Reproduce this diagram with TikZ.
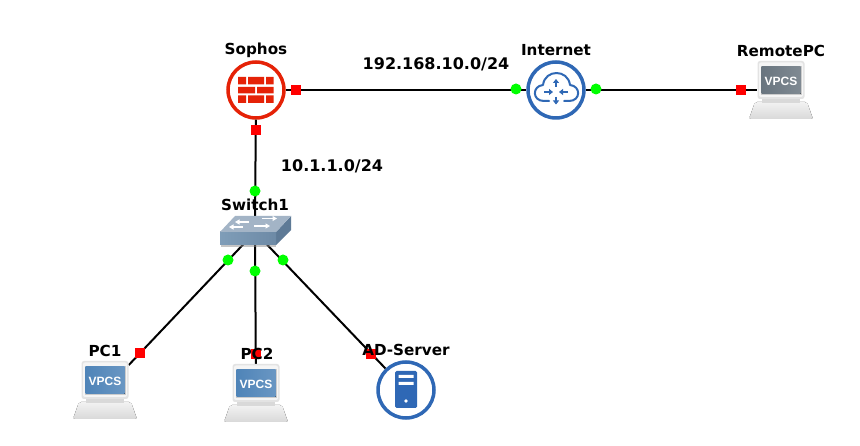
\documentclass[tikz,border=0pt]{standalone}
\usepackage{fontspec}
\setmainfont{DejaVu Sans}
\newfontfamily\vpcsfont{Liberation Sans}
\usetikzlibrary{arrows.meta}
\definecolor{sophred}{HTML}{E52207}
\definecolor{gnsblue}{HTML}{2F68B5}
\definecolor{dotgreen}{HTML}{00FF00}
\definecolor{dotred}{HTML}{FF0000}
\definecolor{screenblue}{HTML}{4F84B8}
\definecolor{screengray}{HTML}{69757F}
\definecolor{swtop}{HTML}{A3B4C6}
\definecolor{swfrontl}{HTML}{7F9DB8}
\definecolor{swfrontr}{HTML}{6D8AA6}
\definecolor{swside}{HTML}{5E7A96}
\tikzset{
  wire/.style={black,line width=2pt},
  updot/.style={circle,fill=dotgreen,draw=none,minimum size=11pt,inner sep=0pt},
  downdot/.style={rectangle,fill=dotred,draw=none,minimum size=10pt,inner sep=0pt},
  devlabel/.style={font=\fontsize{15.2}{17}\selectfont\bfseries,text=black,inner sep=0pt},
  netlabel/.style={font=\fontsize{16}{18}\selectfont\bfseries,text=black,inner sep=0pt},
  ringred/.style={circle,draw=sophred,line width=3.5pt,fill=white,minimum size=56pt,inner sep=0pt},
  ringblue/.style={circle,draw=gnsblue,line width=3.5pt,fill=white,minimum size=56pt,inner sep=0pt},
  pcbox/.style={rectangle,draw=none,minimum width=47pt,minimum height=58pt,inner sep=0pt},
  swbox/.style={rectangle,draw=none,minimum width=60pt,minimum height=26pt,inner sep=0pt},
  cloudline/.style={draw=gnsblue,line width=2pt,line cap=round,line join=round},
  cloudarrow/.style={draw=gnsblue,line width=1.6pt,-{Triangle[length=4pt,width=6pt]}},
  swarrow/.style={draw=white,line width=1.6pt,-{Triangle[length=4.5pt,width=5pt]}},
  pics/pcicon/.style={code={
    \fill[rounded corners=2pt,top color=gray!10,bottom color=gray!30] (-32,29) -- (-26,12) -- (26,12) -- (32,29) -- cycle;
    \fill[gray!30] (-19,8) rectangle (19,13);
    \fill[rounded corners=2.5pt,fill=gray!22] (-23.5,-29) rectangle (23.5,9);
    \fill[rounded corners=2pt,fill=gray!8] (-22,-27.5) rectangle (22,7);
    \fill[gray!40] (-20.5,-24) rectangle (20.5,5);
    \fill[left color=#1,right color=#1!85!white] (-19.5,-23) rectangle (19.5,4);
    \node[text=white,inner sep=0pt,font=\vpcsfont\fontsize{12}{14}\selectfont\bfseries] (vpcs) at (0,-9) {VPCS};
  }}
}
\begin{document}
\begin{tikzpicture}[x=1pt,y=-1pt]
\useasboundingbox (0,0) rectangle (860,446);
\fill[white] (0,0) rectangle (860,446);

% device nodes
\node[ringred]  (sophos)   at (256,90) {};
\node[ringblue] (internet) at (556,90) {};
\node[pcbox]    (remote)   at (781,90) {};
\node[swbox]    (switch)   at (255,232) {};
\node[pcbox]    (pcone)    at (105,390) {};
\node[pcbox]    (pctwo)    at (256,393) {};
\node[ringblue] (adserver) at (406,390) {};

% connectors
\draw[wire] (sophos) -- (internet);
\draw[wire] (internet) -- (remote);
\draw[wire] (sophos) -- (switch.center);
\draw[wire] (switch.center) -- (pcone);
\draw[wire] (switch.center) -- (pctwo);
\draw[wire] (switch.center) -- (adserver);

% Sophos bricks
\fill[sophred]
  (238,77) rectangle (246,84.5) (248,77) rectangle (264,84.5) (266,77) rectangle (273.5,84.5)
  (238,87) rectangle (255,93.5) (257,87) rectangle (273.5,93.5)
  (238,95.5) rectangle (246,103) (248,95.5) rectangle (264,103) (266,95.5) rectangle (273.5,103);

% Internet cloud
\draw[cloudline] (549,101) -- (544,101)
  .. controls (532,101) and (532,86) .. (543,85)
  .. controls (545,69) and (568,69) .. (570,85)
  .. controls (581,86) and (581,101) .. (569,101) -- (564,101);
\draw[cloudarrow] (556,87) -- (556,79);
\draw[cloudarrow] (556,97) -- (556,104.5);
\draw[cloudarrow] (544,92) -- (553,92);
\draw[cloudarrow] (568,92) -- (559,92);

% AD server icon
\fill[gnsblue,rounded corners=1.5pt] (395,371) rectangle (417,408);
\fill[white] (398.5,375) rectangle (413.5,378) (398.5,382) rectangle (413.5,385);
\fill[white] (406,401) circle (1.8);

% Switch icon
\fill[black!45,opacity=0.5] (221,245) rectangle (276,247);
\fill[swside] (276,232) -- (291,216) -- (291,230) -- (276,245) -- cycle;
\fill[left color=swfrontl,right color=swfrontr] (220,232) rectangle (276,245);
\fill[swtop] (235,216) -- (291,216) -- (276,232) -- (220,232) -- cycle;
\draw[swarrow] (249,222) -- (235,222);
\draw[swarrow] (262,218.5) -- (277,218.5);
\draw[swarrow] (243,227) -- (229,227);
\draw[swarrow] (254,226) -- (270,226);

% PC icons
\pic (pcicona) at (pcone.center)  {pcicon=screenblue};
\pic (pciconb) at (pctwo.center)  {pcicon=screenblue};
\pic (pciconc) at (remote.center) {pcicon=screengray};

% interface markers
\node[downdot] (s1) at (296,90) {};
\node[downdot] (s2) at (256,130) {};
\node[updot]   (i1) at (516,89) {};
\node[updot]   (i2) at (596,89) {};
\node[downdot] (r1) at (741,90) {};
\node[updot]   (w0) at (255,191) {};
\node[updot]   (w1) at (228,260) {};
\node[updot]   (w2) at (255,271) {};
\node[updot]   (w3) at (283,260) {};
\node[downdot] (p1) at (140,353) {};
\node[downdot] (p2) at (256,354) {};
\node[downdot] (a1) at (371,354) {};

% labels
\node[devlabel] (lsophos) at (256,50) {Sophos};
\node[devlabel] (linternet) at (556,50) {Internet};
\node[devlabel] (lremote) at (781,51) {RemotePC};
\node[devlabel] (lswitch) at (255,205) {Switch1};
\node[devlabel] (lpcone) at (105,351) {PC1};
\node[devlabel] (lpctwo) at (257,354) {PC2};
\node[devlabel] (lad) at (406,350) {AD-Server};
\node[netlabel] (lnetone) at (436,64) {192.168.10.0/24};
\node[netlabel] (lnettwo) at (332,166) {10.1.1.0/24};
\end{tikzpicture}
\end{document}
